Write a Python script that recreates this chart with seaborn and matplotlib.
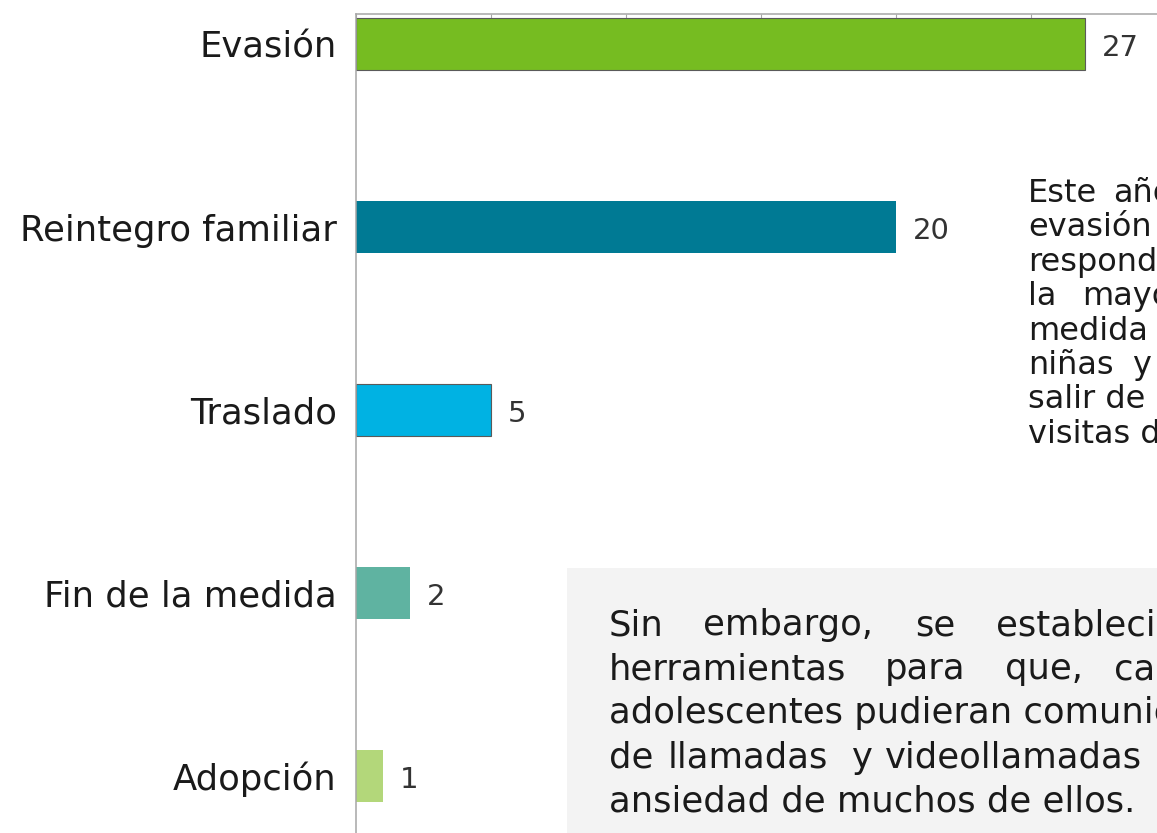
import matplotlib
matplotlib.use("Agg")
import matplotlib.pyplot as plt
from matplotlib.patches import Rectangle
import seaborn as sns
import pandas as pd

# ---- data ----
categories = ["Evasión", "Reintegro familiar", "Traslado", "Fin de la medida", "Adopción"]
values = [27, 20, 5, 2, 1]
colors = ["#76bc21", "#007a94", "#00b2e3", "#5fb3a1", "#b3d77a"]
edges = ["#5a5a5a", "none", "#5a5a5a", "none", "none"]

side_lines = [["Este", "año"], ["evasión"], ["respondió"], ["la", "mayor"],
              ["medida"], ["niñas", "y"], ["salir de"], ["visitas de"]]
box_lines = [["Sin", "embargo,", "se", "establecieron"],
             ["herramientas", "para", "que,", "cada"],
             ["adolescentes pudieran comunicarse"],
             ["de", "llamadas", "y", "videollamadas"],
             ["ansiedad de muchos de ellos."]]

W, H = 1157, 833
sns.set_style("white")
plt.rcParams["font.family"] = ["DejaVu Sans"]
TXT = "#1a1a1a"

fig = plt.figure(figsize=(W / 100, H / 100), dpi=100)
ax = fig.add_axes([356 / W, 0.98319 - 1.0246, 810 / W, 1.0246])

df = pd.DataFrame({"cat": categories, "val": values})
sns.barplot(data=df, x="val", y="cat", hue="cat", palette=colors, legend=False,
            orient="h", width=0.28, ax=ax, linewidth=0, saturation=1)
for p, ec in zip(ax.patches, edges):
    if ec != "none":
        p.set_edgecolor(ec)
        p.set_linewidth(0.8)

for c in ax.containers:
    for t in ax.bar_label(c, padding=12, fontsize=21, color="#333333"):
        t.xyann = (12, -3)

ax.set_xlim(0, 30)
ax.set_ylim(4.5, -0.164)
ax.set_xlabel("")
ax.set_ylabel("")
ax.xaxis.tick_top()
ax.set_xticks([0, 5, 10, 15, 20, 25, 30])
ax.tick_params(axis="x", direction="in", length=3, width=0.8, color="#a6a6a6",
               labeltop=False, labelbottom=False)
ax.tick_params(axis="y", length=0, pad=14, labelsize=25.5, labelcolor=TXT)
for s in ["right", "bottom"]:
    ax.spines[s].set_visible(False)
for s in ["left", "top"]:
    ax.spines[s].set_color("#a6a6a6")
    ax.spines[s].set_linewidth(1.1)

# gray note box
fig.patches.append(Rectangle((567 / W, 0), 1, 1 - 568 / H, transform=fig.transFigure,
                             facecolor="#f3f3f3", edgecolor="none", zorder=0))

def put(x, y, s, size):
    fig.text(x / W, 1 - y / H, s, fontsize=size, color=TXT, va="baseline", ha="left")

side_x = [[1028, 1113], [1028], [1028], [1028, 1082], [1028], [1028, 1132], [1028], [1028]]
side_y0, side_dy = 202, 34.4
for i, (words, xs) in enumerate(zip(side_lines, side_x)):
    for w, x in zip(words, xs):
        put(x, side_y0 + i * side_dy, w, 23)

box_x = [[609, 703, 915, 996], [609, 885, 1005, 1114], [609], [609, 668, 852, 885], [609]]
box_y0, box_dy = 635, 44.2
for i, (words, xs) in enumerate(zip(box_lines, box_x)):
    for w, x in zip(words, xs):
        put(x, box_y0 + i * box_dy, w, 25.5)

fig.savefig("out.png", dpi=100)
